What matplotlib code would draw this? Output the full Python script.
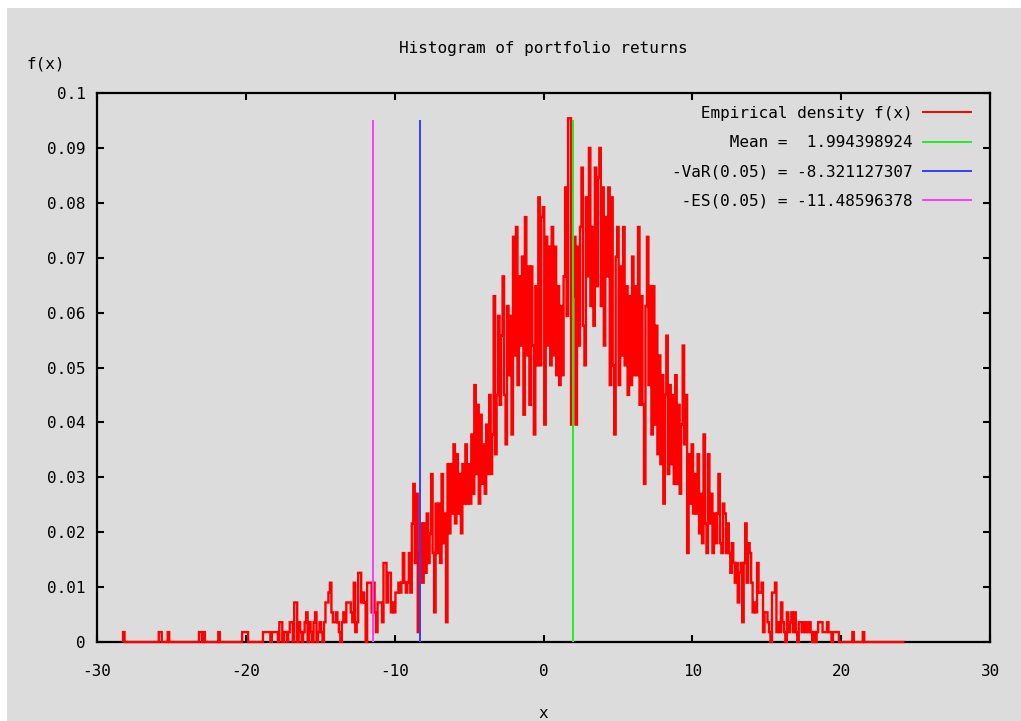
import numpy as np
import matplotlib
matplotlib.use('Agg')
import matplotlib.pyplot as plt
from matplotlib.patches import Rectangle
from matplotlib.lines import Line2D

# histogram: bins 0.1 wide, one count = 0.0018 of density
bin_width = 0.1
density_per_count = 0.0018
x_first, x_last = -28.2, 24.2

# sparse far tails (bin centre, count)
tail_left_x = [-28.2, -25.8, -25.7, -25.2, -23.1, -23.0, -22.8, -21.8, -20.2, -20.1, -20.0, -19.9]
tail_left_n = [1, 1, 1, 1, 1, 1, 1, 1, 1, 1, 1, 1]
tail_right_x = [20.8, 21.5]
tail_right_n = [1, 1]

# dense part, one row per unit of x, starting at -19.0
core_start = -19.0
core_n = [
    0, 0, 1, 1, 1, 1, 1, 0, 1, 1,            # -19
    1, 1, 0, 2, 2, 0, 1, 1, 0, 1,            # -18
    2, 2, 0, 4, 4, 0, 2, 1, 0, 1,            # -17
    2, 3, 0, 2, 1, 0, 2, 3, 0, 1,            # -16
    2, 1, 0, 2, 4, 4, 5, 6, 3, 2,            # -15
    2, 3, 2, 1, 0, 2, 3, 2, 4, 4,            # -14
    4, 3, 2, 6, 1, 2, 7, 7, 4, 5,            # -13
    4, 0, 6, 6, 6, 3, 6, 3, 1, 4,            # -12
    4, 4, 2, 8, 8, 4, 7, 7, 3, 4,            # -11
    3, 5, 5, 6, 5, 6, 9, 6, 5, 6,            # -10
    9, 5, 12, 16, 8, 15, 1, 9, 12, 6,        # -9
    12, 7, 13, 8, 11, 17, 9, 3, 14, 9,       # -8
    14, 8, 17, 10, 13, 2, 18, 11, 18, 13,    # -7
    20, 12, 19, 13, 17, 11, 18, 14, 20, 14,  # -6
    18, 14, 21, 15, 26, 17, 24, 14, 23, 16,  # -5
    20, 15, 22, 17, 25, 17, 21, 35, 19, 25,  # -4
    33, 24, 31, 37, 25, 20, 34, 27, 33, 21,  # -3
    41, 29, 42, 26, 37, 30, 39, 23, 43, 29,  # -2
    38, 24, 38, 30, 21, 36, 28, 45, 28, 43,  # -1
    44, 22, 41, 30, 40, 28, 42, 29, 40, 27,  # 0
    36, 26, 34, 27, 37, 46, 33, 53, 53, 22,  # 1
    35, 41, 22, 40, 30, 42, 48, 32, 28, 45,  # 2
    37, 50, 34, 42, 32, 48, 36, 47, 50, 34,  # 3
    46, 30, 43, 37, 46, 26, 45, 28, 21, 39,  # 4
    42, 26, 38, 29, 42, 28, 36, 25, 35, 26,  # 5
    39, 27, 36, 27, 42, 24, 35, 24, 16, 34,  # 6
    41, 26, 36, 21, 36, 22, 32, 19, 29, 18,  # 7
    27, 14, 25, 31, 17, 26, 18, 25, 16, 27,  # 8
    16, 24, 15, 22, 30, 20, 25, 9, 19, 14,   # 9
    20, 13, 17, 13, 19, 11, 15, 10, 21, 12,  # 10
    9, 19, 12, 15, 9, 13, 10, 13, 17, 10,    # 11
    9, 14, 13, 9, 12, 9, 7, 10, 8, 6,        # 12
    8, 4, 7, 8, 2, 8, 12, 6, 10, 9,          # 13
    6, 3, 4, 3, 8, 5, 5, 6, 1, 3,            # 14
    3, 2, 1, 0, 5, 5, 6, 1, 2, 1,            # 15
    4, 2, 1, 0, 3, 1, 2, 3, 1, 3,            # 16
    1, 0, 2, 2, 1, 2, 1, 2, 1, 2,            # 17
    1, 0, 1, 0, 1, 2, 2, 2, 1, 1,            # 18
    1, 2, 1, 1, 0, 1, 1, 1, 1, 0,            # 19
]

mean_value = 1.994398924
var_value = -8.321127307
es_value = -11.48596378
line_top = 0.095

labels = ['Empirical density f(x)',
          'Mean =  1.994398924',
          '-VaR(0.05) = -8.321127307',
          '-ES(0.05) = -11.48596378']
colors = ['#ff0000', '#22ee22', '#3a3aff', '#ff3aff']
xticks = [-30, -20, -10, 0, 10, 20, 30]
yticks = [0, 0.01, 0.02, 0.03, 0.04, 0.05, 0.06, 0.07, 0.08, 0.09, 0.1]
ytick_labels = ['0', '0.01', '0.02', '0.03', '0.04', '0.05', '0.06', '0.07', '0.08', '0.09', '0.1']

# put everything on one grid of bins
nbins = int(round((x_last - x_first) / bin_width)) + 1
counts = np.zeros(nbins)
def idx(x):
    return int(round((x - x_first) / bin_width))
for x, c in zip(tail_left_x, tail_left_n):
    counts[idx(x)] = c
for x, c in zip(tail_right_x, tail_right_n):
    counts[idx(x)] = c
i0 = idx(core_start)
counts[i0:i0 + len(core_n)] = core_n
centers = x_first + bin_width * np.arange(nbins)
edges = np.append(centers - bin_width / 2, centers[-1] + bin_width / 2)
density = counts * density_per_count

W, H = 1021, 721
bg = '#dcdcdc'
fs = 11.5
mono = 'DejaVu Sans Mono'
plt.rcParams['font.family'] = mono
plt.rcParams['font.size'] = fs

fig = plt.figure(figsize=(W / 100, H / 100), dpi=100, facecolor='white')
fig.add_artist(Rectangle((7 / W, 0), 1, (H - 8) / H, transform=fig.transFigure,
                         facecolor=bg, edgecolor='none', zorder=-10))
ax = fig.add_axes([97 / W, 79 / H, 893 / W, 549 / H])
ax.set_facecolor(bg)

ax.stairs(density, edges, color=colors[0], lw=1.7, baseline=0, zorder=3, clip_on=False)
ax.vlines(mean_value, 0, line_top, color=colors[1], lw=1.4, zorder=4)
ax.vlines(var_value, 0, line_top, color=colors[2], lw=1.4, zorder=4)
ax.vlines(es_value, 0, line_top, color=colors[3], lw=1.4, zorder=4)

ax.set_xlim(-30, 30)
ax.set_ylim(0, 0.1)
ax.set_xticks(xticks)
ax.set_xticklabels([str(t) for t in xticks])
ax.set_yticks(yticks)
ax.set_yticklabels(ytick_labels)
ax.tick_params(direction='in', length=5, width=1.5, top=True, right=True,
               labelsize=fs, colors='black')
ax.tick_params(axis='x', pad=16)
ax.tick_params(axis='y', pad=8)
for s in ax.spines.values():
    s.set_linewidth(1.6)
    s.set_color('black')

# gnuplot style key: labels right aligned, sample to the right
width = max(len(t) for t in labels)
proxies = [Line2D([], [], color=c, lw=1.4) for c in colors]
ax.legend(proxies, [t.rjust(width) for t in labels], loc='upper right',
          bbox_to_anchor=(0.979, 0.9765), borderaxespad=0, borderpad=0,
          frameon=False, markerfirst=False, handlelength=3.0,
          handletextpad=0.7, labelspacing=0.89, prop={'family': mono, 'size': fs})

fig.text(543 / W, 1 - 48 / H, 'Histogram of portfolio returns', ha='center', va='center')
fig.text(26 / W, 1 - 64 / H, 'f(x)', ha='left', va='center')
fig.text(543 / W, 1 - 713 / H, 'x', ha='center', va='center')

fig.savefig('out.png', dpi=100, facecolor=fig.get_facecolor())
